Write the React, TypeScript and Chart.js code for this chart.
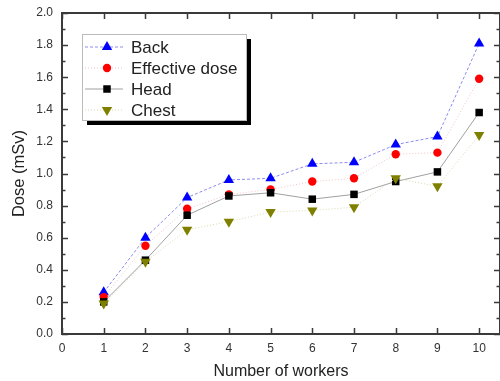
import React, { useEffect, useRef } from "react";
import { Chart, registerables } from "chart.js";

Chart.register(...registerables);

const workers = [1, 2, 3, 4, 5, 6, 7, 8, 9, 10];
const backDose = [0.26, 0.60, 0.85, 0.96, 0.97, 1.06, 1.07, 1.18, 1.23, 1.81];
const effectiveDose = [0.23, 0.55, 0.78, 0.87, 0.90, 0.95, 0.97, 1.12, 1.13, 1.59];
const headDose = [0.20, 0.46, 0.74, 0.86, 0.88, 0.84, 0.87, 0.95, 1.01, 1.38];
const chestDose = [0.19, 0.45, 0.65, 0.70, 0.76, 0.77, 0.79, 0.97, 0.92, 1.24];
const seriesLabels = ["Back", "Effective dose", "Head", "Chest"];
const xTitle = "Number of workers";
const yTitle = "Dose (mSv)";

const FONT = "'Liberation Sans', Arial, sans-serif";

function drawMarker(ctx: CanvasRenderingContext2D, style: string, x: number, y: number, r: number, rot: number) {
  ctx.save();
  ctx.translate(x, y);
  ctx.rotate((rot * Math.PI) / 180);
  ctx.beginPath();
  if (style === "triangle") {
    ctx.moveTo(0, -r);
    ctx.lineTo(r * Math.sin(Math.PI / 3), r * 0.5);
    ctx.lineTo(-r * Math.sin(Math.PI / 3), r * 0.5);
    ctx.closePath();
  } else if (style === "rect") {
    const s = Math.SQRT1_2 * r;
    ctx.rect(-s, -s, 2 * s, 2 * s);
  } else {
    ctx.arc(0, 0, r, 0, Math.PI * 2);
  }
  ctx.fill();
  ctx.restore();
}

const framePlugin = {
  id: "frameTicks",
  afterDatasetsDraw(chart: any) {
    const { ctx, chartArea, scales } = chart;
    const { left, right, top, bottom } = chartArea;
    ctx.save();
    ctx.strokeStyle = "#3a3a3a";
    ctx.lineWidth = 1.5;
    for (let i = 0; i <= 20; i++) {
      const v = i / 10;
      const y = Math.round(scales.y.getPixelForValue(v)) + 0.5;
      const len = i % 2 === 0 ? 6 : 3.5;
      ctx.beginPath();
      ctx.moveTo(left, y);
      ctx.lineTo(left + len, y);
      ctx.moveTo(right, y);
      ctx.lineTo(right - len, y);
      ctx.stroke();
    }
    for (let i = 0; i <= 10; i++) {
      const x = Math.round(scales.x.getPixelForValue(i)) + 0.5;
      ctx.beginPath();
      ctx.moveTo(x, bottom);
      ctx.lineTo(x, bottom - 6);
      ctx.moveTo(x, top);
      ctx.lineTo(x, top + 6);
      ctx.stroke();
    }
    ctx.lineWidth = 2;
    ctx.strokeRect(left, top, right - left, bottom - top);
    ctx.restore();

    // legend
    const bx = left + 20;
    const by = top + 21;
    const bw = 164;
    const bh = 86;
    ctx.save();
    ctx.fillStyle = "#000";
    ctx.fillRect(bx + 5, by + 5, bw, bh);
    ctx.fillStyle = "#fff";
    ctx.fillRect(bx, by, bw, bh);
    ctx.strokeStyle = "#bbb";
    ctx.lineWidth = 1;
    ctx.strokeRect(bx + 0.5, by + 0.5, bw, bh);
    [0, 1, 2, 3].forEach((r) => {
      const ds = chart.data.datasets[r];
      const cy = by + 13 + r * 21;
      ctx.save();
      ctx.strokeStyle = ds.borderColor;
      ctx.lineWidth = ds.borderWidth;
      ctx.setLineDash(ds.borderDash || []);
      ctx.beginPath();
      ctx.moveTo(bx + 3, cy);
      ctx.lineTo(bx + 41, cy);
      ctx.stroke();
      ctx.restore();
      ctx.save();
      ctx.fillStyle = ds.pointBackgroundColor;
      drawMarker(ctx, ds.pointStyle, bx + 25, cy, ds.pointRadius, ds.pointRotation || 0);
      ctx.restore();
      ctx.fillStyle = "#222";
      ctx.font = `17px ${FONT}`;
      ctx.textBaseline = "middle";
      ctx.textAlign = "left";
      ctx.fillText(ds.label, bx + 49, cy + 1);
    });
    ctx.restore();
  },
};

export default function App() {
  const ref = useRef<HTMLCanvasElement>(null);
  useEffect(() => {
    document.body.style.margin = "0";
    const toXY = (arr: number[]) => workers.map((w, i) => ({ x: w, y: arr[i] }));
    const chart = new Chart(ref.current!, {
      type: "line",
      data: {
        datasets: [
          {
            label: seriesLabels[0],
            data: toXY(backDose),
            borderColor: "#8c8cf0",
            borderWidth: 1,
            borderDash: [3, 2],
            pointStyle: "triangle",
            pointRadius: 6,
            pointBackgroundColor: "#0000ff",
            pointBorderColor: "#0000ff",
            pointBorderWidth: 0,
            order: 4,
          } as any,
          {
            label: seriesLabels[1],
            data: toXY(effectiveDose),
            borderColor: "#f2c4c4",
            borderWidth: 1,
            borderDash: [1, 2],
            pointStyle: "circle",
            pointRadius: 4.2,
            pointBackgroundColor: "#ff0000",
            pointBorderColor: "#ff0000",
            pointBorderWidth: 0,
            order: 3,
          },
          {
            label: seriesLabels[2],
            data: toXY(headDose),
            borderColor: "#a0a0a0",
            borderWidth: 1,
            borderDash: [],
            pointStyle: "rect",
            pointRadius: 5.3,
            pointBackgroundColor: "#000000",
            pointBorderColor: "#000000",
            pointBorderWidth: 0,
            order: 2,
          },
          {
            label: seriesLabels[3],
            data: toXY(chestDose),
            borderColor: "#d9d9b0",
            borderWidth: 1,
            borderDash: [1, 2],
            pointStyle: "triangle",
            pointRotation: 180,
            pointRadius: 6,
            pointBackgroundColor: "#808000",
            pointBorderColor: "#808000",
            pointBorderWidth: 0,
            order: 1,
          },
        ],
      },
      options: {
        animation: false,
        responsive: true,
        maintainAspectRatio: false,
        layout: { autoPadding: false, padding: { top: 13, right: 0, left: 0, bottom: 0 } },
        plugins: { legend: { display: false }, tooltip: { enabled: false } },
        elements: { line: { tension: 0 } },
        scales: {
          x: {
            type: "linear",
            min: 0,
            max: 10.5,
            grid: { display: false, drawTicks: false },
            border: { display: false },
            ticks: {
              stepSize: 1,
              includeBounds: false,
              padding: 7,
              color: "#333",
              font: { family: FONT, size: 12 },
              callback: (v: any) => String(v),
            },
            title: {
              display: true,
              text: xTitle,
              color: "#222",
              font: { family: FONT, size: 16 },
              padding: { top: 0, bottom: 0 },
            },
            afterFit: (s: any) => {
              s.height = 47;
              s.paddingLeft = 0;
              s.paddingRight = 0;
            },
          },
          y: {
            type: "linear",
            min: 0,
            max: 2.0,
            grid: { display: false, drawTicks: false },
            border: { display: false },
            ticks: {
              stepSize: 0.2,
              padding: 9,
              color: "#333",
              font: { family: FONT, size: 12 },
              callback: (v: any) => Number(v).toFixed(1),
            },
            title: {
              display: true,
              text: yTitle,
              color: "#222",
              font: { family: FONT, size: 16.5 },
              padding: { top: 10, bottom: 0 },
            },
            afterFit: (s: any) => {
              s.width = 62;
              s.paddingTop = 0;
              s.paddingBottom = 0;
            },
          },
        },
      },
      plugins: [framePlugin],
    });
    return () => chart.destroy();
  }, []);
  return (
    <div style={{ position: "absolute", left: 0, top: 0, width: 500, height: 381, background: "#fff" }}>
      <canvas ref={ref} />
    </div>
  );
}
